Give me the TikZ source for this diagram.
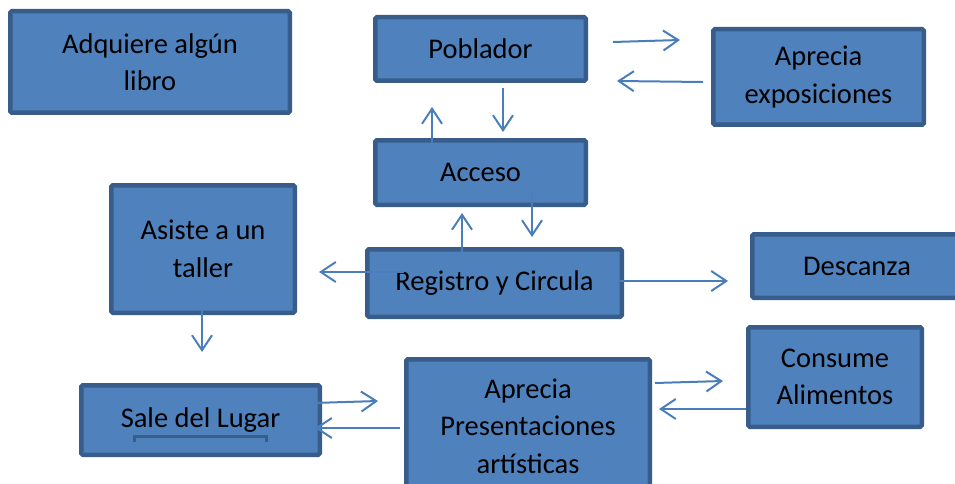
\documentclass[tikz,border=0pt]{standalone}
\usepackage{fontspec}
\setmainfont{Carlito}
\usetikzlibrary{arrows.meta,calc}
\definecolor{boxfill}{HTML}{4F81BD}
\definecolor{boxline}{HTML}{385D8A}
\definecolor{arrowcol}{HTML}{4A7EBB}
\tikzset{
  box/.style={rectangle, draw=boxline, fill=boxfill, line width=4.5pt,
    rounded corners=1.5pt, inner sep=0pt, align=center, text=black,
    font=\fontsize{28.5}{37.5}\selectfont},
  conn/.style={draw=arrowcol, line width=2pt,
    -{Straight Barb[length=15pt,width=20pt,line width=2pt]}},
}
\begin{document}
\begin{tikzpicture}[x=1pt,y=-1pt]
\path[use as bounding box, clip] (0,0) rectangle (955,484);
\node[box, minimum width=279.5pt, minimum height=101.5pt] (adq) at (150,62) {Adquiere algún\\libro};
\node[box, minimum width=210.5pt, minimum height=63.5pt] (pob) at (480.5,49) {Poblador};
\node[box, minimum width=210.5pt, minimum height=95.5pt] (exp) at (818.5,77) {Aprecia\\exposiciones};
\node[box, minimum width=210.5pt, minimum height=64.5pt] (acc) at (480.5,172.5) {Acceso};
\node[box, minimum width=254.5pt, minimum height=67.5pt] (reg) at (494.5,283) {Registro y Circula};
\node[box, minimum width=209.5pt, minimum height=63.5pt] (des) at (857,266) {Descanza};
\node[box, minimum width=183.5pt, minimum height=127.5pt] (asi) at (203,249) {Asiste a un\\taller};
\node[box, minimum width=238.5pt, minimum height=69.5pt] (sal) at (200.5,420) {Sale del Lugar};
\node[box, minimum width=243.5pt, minimum height=133.5pt] (pre) at (528,426) {Aprecia\\Presentaciones\\artísticas};
\node[box, minimum width=173.5pt, minimum height=99.5pt] (con) at (835,377) {Consume\\Alimentos};
% bracket under text
\draw[boxline, line width=3pt] ($(sal.center)+(-66.5,22)$) -- ($(sal.center)+(-66.5,16.5)$)
  -- ($(sal.center)+(65.5,16.5)$) -- ($(sal.center)+(65.5,22)$);
% connectors
\draw[conn] ($(pob.east)+(25,-7)$) -- ($(exp.north west)+(-31,13)$);
\draw[conn] ($(exp.west)+(-8,5)$) -- ($(pob.south east)+(29,-2)$);
\draw[conn] ($(pob.south)+(22.5,5)$) -- ($(acc.north)+(22.5,-6)$);
\draw[conn] ($(acc.north)+(-48.5,5)$) -- ($(pob.south)+(-48.5,24)$);
\draw[conn] ($(reg.north)+(-32.5,5)$) -- ($(acc.south)+(-18.5,6)$);
\draw[conn] ($(acc.south)+(51.5,-14)$) -- ($(reg.north)+(37.5,-10)$);
\draw[conn] ($(reg.west)+(39,-11)$) -- ($(asi.east)+(22,23)$);
\draw[conn] ($(reg.east)+(-4,-2)$) -- ($(des.west)+(-22,15)$);
\draw[conn] ($(asi.south)+(-1,-5)$) -- ($(sal.north)+(1.5,-31)$);
\draw[conn] ($(sal.east)+(-9,-17)$) -- ($(pre.west)+(-26,-25)$);
\draw[conn] ($(pre.west)+(-4,2)$) -- ($(sal.east)+(-7,8)$);
\draw[conn] ($(pre.east)+(3,-43)$) -- ($(con.west)+(-23,4)$);
\draw[conn] ($(con.west)+(0,32)$) -- ($(pre.east)+(7,-17)$);
\end{tikzpicture}
\end{document}
